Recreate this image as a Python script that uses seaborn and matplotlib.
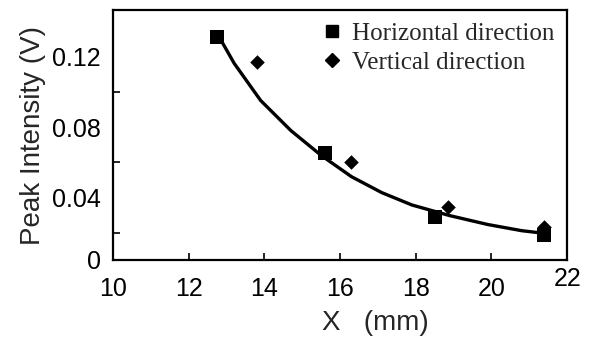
import numpy as np
import pandas as pd
import matplotlib.pyplot as plt
import matplotlib.transforms as mtransforms
from matplotlib.lines import Line2D
import seaborn as sns

# measured points
horiz_x = [12.75, 15.6, 18.5, 21.4]
horiz_y = [0.131, 0.0655, 0.029, 0.019]
vert_x = [13.8, 16.3, 18.85, 21.4]
vert_y = [0.117, 0.060, 0.035, 0.0235]

# fitted curve
fit_x = [12.8, 13.2, 13.9, 14.7, 15.5, 16.3, 17.1, 17.9, 18.9, 19.9, 20.8, 21.4]
fit_y = [0.131, 0.116, 0.095, 0.078, 0.064, 0.052, 0.043, 0.036, 0.030, 0.025, 0.0215, 0.020]

xticks = [10, 12, 14, 16, 18, 20, 22]
yticks = [0.005, 0.04, 0.08, 0.12]
ytick_labels = ['0', '0.04', '0.08', '0.12']
yminor = [0.02, 0.06, 0.10]

sns.set_style("ticks")
plt.rcParams['font.family'] = ['Liberation Sans', 'DejaVu Sans']

fig, ax = plt.subplots(figsize=(5.92, 3.38), dpi=100)
fig.subplots_adjust(left=0.191, right=0.958, top=0.970, bottom=0.231)

curve = pd.DataFrame({'x': fit_x, 'y': fit_y})
sns.lineplot(data=curve, x='x', y='y', color='black', lw=2.4, sort=False,
             estimator=None, ax=ax)
sns.scatterplot(x=horiz_x, y=horiz_y, marker='s', s=90, color='black',
                edgecolor='black', linewidth=0, ax=ax, zorder=3)
sns.scatterplot(x=vert_x, y=vert_y, marker='D', s=55, color='black',
                edgecolor='black', linewidth=0, ax=ax, zorder=3)

ax.set_xlim(10, 22)
ax.set_ylim(0.005, 0.146)
ax.set_xticks(xticks)
ax.set_xticklabels([str(t) for t in xticks])
ax.set_yticks(yticks)
ax.set_yticklabels(ytick_labels)

ax.tick_params(axis='both', which='both', direction='in', length=5, width=1.2,
               labelsize=18, colors='black')
ax.tick_params(axis='x', pad=12)
ax.tick_params(axis='y', pad=9)
ax.tick_params(axis='y', which='major', length=0)
# tick marks on y only at 0.02 steps (no mark at bottom)
ax.set_yticks([0.04, 0.08, 0.12] + yminor, minor=True)

for sp in ax.spines.values():
    sp.set_linewidth(1.6)
    sp.set_color('black')

# the "22" label sits a bit higher in the original
lab = ax.get_xticklabels()[-1]
lab.set_transform(lab.get_transform() +
                  mtransforms.ScaledTranslation(0, 0.1, fig.dpi_scale_trans))

ax.set_xlabel('X   (mm)', fontsize=20)
ax.xaxis.set_label_coords(0.577, -0.2)
ax.set_ylabel('Peak Intensity (V)', fontsize=20, labelpad=4)

handles = [Line2D([], [], marker='s', ls='', color='black', markersize=9),
           Line2D([], [], marker='D', ls='', color='black', markersize=7)]
ax.legend(handles, ['Horizontal direction', 'Vertical direction'],
          loc='upper right', frameon=False, handletextpad=0.2,
          handlelength=1.2, labelspacing=0.25, borderaxespad=0.1,
          prop={'family': 'Liberation Serif', 'size': 18})

plt.savefig('out.png', dpi=100)
